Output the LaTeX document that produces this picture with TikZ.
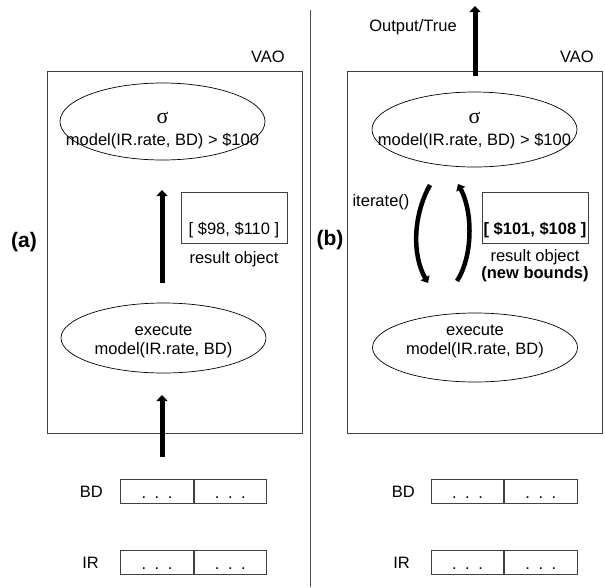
\documentclass[tikz,border=0pt]{standalone}
\usepackage{fontspec}
\setmainfont{Liberation Sans}
\newfontfamily\sigmafont{Liberation Serif}
\usepackage{tikz}
\usetikzlibrary{shapes,arrows,positioning,calc,arrows.meta}

\begin{document}
\begin{tikzpicture}[x=1pt, y=-1pt,
        every node/.style={font=\fontsize{16.5}{19}\selectfont},
        vao/.style={draw=black!75, line width=0.8pt},
        oval/.style={draw, ellipse, line width=0.7pt, minimum width=205pt, inner sep=0pt},
        ovaltext/.style={align=center, font=\fontsize{16.5}{19}\selectfont},
        resbox/.style={draw=black!75, line width=0.8pt, minimum width=106pt, minimum height=51pt,
            inner sep=0pt, text height=34pt, text depth=0pt},
        cell/.style={draw=black!75, line width=0.8pt, minimum width=72.5pt, minimum height=24pt,
            inner sep=0pt, text height=13pt, text depth=0pt},
        fat/.style={line width=5pt, -{Triangle[length=6pt,width=11pt]}},
        bent/.style={line width=4.5pt, -{Triangle[length=6pt,width=10pt]}},
        tag/.style={font=\bfseries\fontsize{21}{21}\selectfont}
    ]
        \useasboundingbox (0,0) rectangle (605,587);

        % (a): bounds do not decide the predicate
        \draw[vao] (47,71) rectangle (302,433);
        \node (vaoA) at (268,57) {VAO};
        \node[tag] (tagA) at (24,242) {(a)};
        \node[oval, minimum height=77pt,
            label={[ovaltext, yshift=-9pt]center:{{\sigmafont\fontsize{22}{22}\selectfont σ}\\[3pt]model(IR.rate, BD) > \$100}}]
            (selA) at (162.5,121.5) {};
        \node[oval, minimum height=70pt,
            label={[ovaltext, yshift=-3pt]center:{execute\\model(IR.rate, BD)}}]
            (execA) at (163.5,338) {};
        \node[resbox] (resA) at (234,217.5) {[ \$98, \$110 ]};
        \node[below=5pt of resA] (objA) {result object};
        \coordinate (upA-s) at (162,283);
        \coordinate (upA-e) at (162,190);
        \coordinate (inA-s) at (162,457);
        \coordinate (inA-e) at (162,395);
        \draw[fat] (upA-s) -- (upA-e);
        \draw[fat] (inA-s) -- (inA-e);

        % inputs of (a)
        \node[cell] (bdA1) at (157,491.5) {.\hspace{8.5pt}.\hspace{8.5pt}.};
        \node[cell, right=0pt of bdA1] (bdA2) {.\hspace{8.5pt}.\hspace{8.5pt}.};
        \node[left=14pt of bdA1] (bdA) {BD};
        \node[cell] (irA1) at (157,562.5) {.\hspace{8.5pt}.\hspace{8.5pt}.};
        \node[cell, right=0pt of irA1] (irA2) {.\hspace{8.5pt}.\hspace{8.5pt}.};
        \node[left=18pt of irA1] (irA) {IR};

        % divider
        \draw[black!70, line width=0.9pt] (310,10) -- (310,587);

        % (b): iterate until the bounds decide
        \draw[vao] (347,71) rectangle (602,433);
        \node (vaoB) at (577,57) {VAO};
        \node[tag] (tagB) at (330,240) {(b)};
        \node[oval, minimum height=75pt,
            label={[ovaltext, yshift=-1pt]center:{{\sigmafont\fontsize{22}{22}\selectfont σ}\\[3pt]model(IR.rate, BD) > \$100}}]
            (selB) at (474.5,129.5) {};
        \node[oval, minimum height=69pt,
            label={[ovaltext, yshift=6pt]center:{execute\\model(IR.rate, BD)}}]
            (execB) at (475,347.5) {};
        \node[resbox, font=\bfseries\fontsize{16.5}{19}\selectfont] (resB) at (535,217.5) {[ \$101, \$108 ]};
        \node[below=3pt of resB, align=center, font=\fontsize{16.5}{17}\selectfont] (objB)
            {result object\\\textbf{(new bounds)}};
        \node (itLbl) at (381,202) {iterate()};
        \node (outLbl) at (413,27) {Output/True};
        \coordinate (outB-s) at (475,76);
        \coordinate (outB-e) at (475,6);
        \coordinate (itB-s) at (430,185);
        \coordinate (itB-e) at (428,283);
        \coordinate (backB-s) at (457,281);
        \coordinate (backB-e) at (458,184);
        \draw[fat] (outB-s) -- (outB-e);
        \draw[bent] (itB-s) .. controls +(-17,30) and +(-16,-28) .. (itB-e);
        \draw[bent] (backB-s) .. controls +(16,-25) and +(15,28) .. (backB-e);

        % inputs of (b)
        \node[cell] (bdB1) at (467.5,491.5) {.\hspace{8.5pt}.\hspace{8.5pt}.};
        \node[cell, right=0pt of bdB1] (bdB2) {.\hspace{8.5pt}.\hspace{8.5pt}.};
        \node[left=12.5pt of bdB1] (bdB) {BD};
        \node[cell] (irB1) at (467.5,562.5) {.\hspace{8.5pt}.\hspace{8.5pt}.};
        \node[cell, right=0pt of irB1] (irB2) {.\hspace{8.5pt}.\hspace{8.5pt}.};
        \node[left=17.5pt of irB1] (irB) {IR};
    \end{tikzpicture}
\end{document}
